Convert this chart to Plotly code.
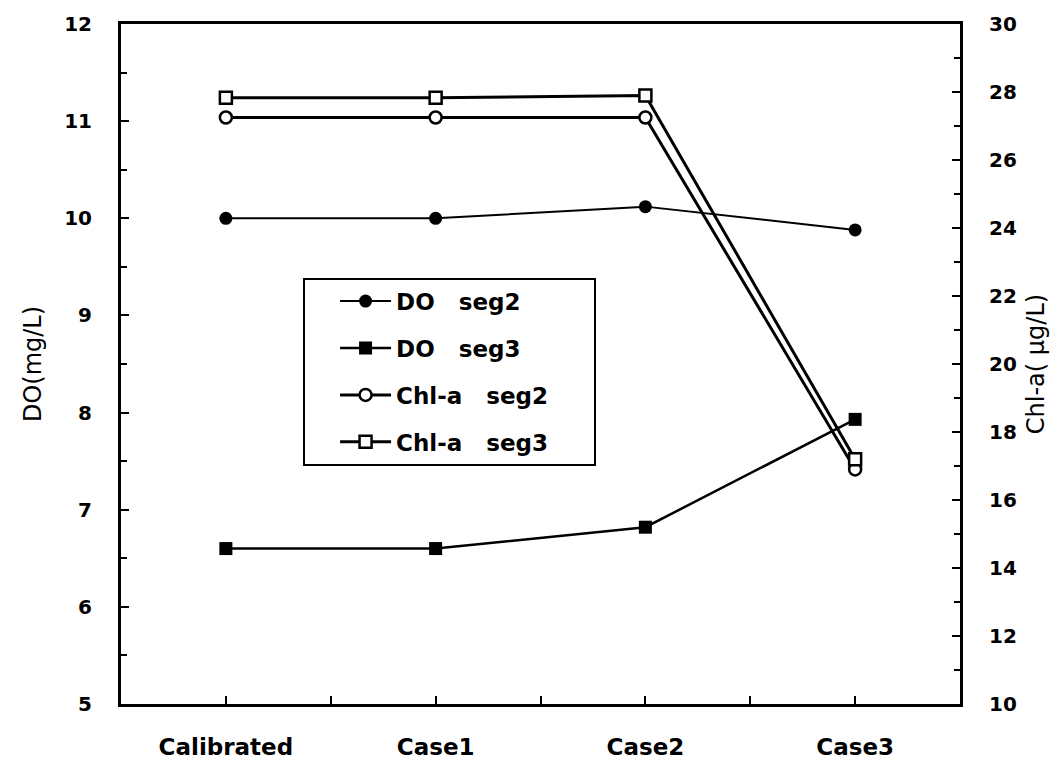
import plotly.graph_objects as go

categories = ["Calibrated", "Case1", "Case2", "Case3"]
do_seg2 = [10.0, 10.0, 10.12, 9.88]
do_seg3 = [6.6, 6.6, 6.82, 7.93]
chla_seg2 = [27.25, 27.25, 27.25, 16.9]
chla_seg3 = [27.83, 27.83, 27.9, 17.2]
SP = "\u00a0"
legend_names = ["DO" + SP * 3 + "seg2", "DO" + SP * 3 + "seg3",
                "Chl-a" + SP * 3 + "seg2" + SP * 5, "Chl-a" + SP * 3 + "seg3" + SP * 5]

xs = list(range(len(categories)))
FONT = "DejaVu Sans"

fig = go.Figure()
fig.add_trace(go.Scatter(x=xs, y=do_seg2, name=legend_names[0], mode="lines+markers",
                         line=dict(color="black", width=2),
                         marker=dict(symbol="circle", size=13, color="black"),
                         legendgroup="a"))
fig.add_trace(go.Scatter(x=xs, y=do_seg3, name=legend_names[1], mode="lines+markers",
                         line=dict(color="black", width=2.5),
                         marker=dict(symbol="square", size=13, color="black"),
                         legendgroup="b"))
fig.add_trace(go.Scatter(x=xs, y=chla_seg2, name=legend_names[2], mode="lines+markers",
                         line=dict(color="black", width=3),
                         marker=dict(symbol="circle", size=12, color="white",
                                     line=dict(color="black", width=2.5)),
                         yaxis="y2", legendgroup="c"))
fig.add_trace(go.Scatter(x=xs, y=chla_seg3, name=legend_names[3], mode="lines+markers",
                         line=dict(color="black", width=3),
                         marker=dict(symbol="square", size=12, color="white",
                                     line=dict(color="black", width=2.5)),
                         yaxis="y2", legendgroup="d"))

fig.update_layout(
    width=1063, height=772,
    margin=dict(l=121, r=103, t=15, b=58),
    paper_bgcolor="white", plot_bgcolor="white",
    font=dict(family=FONT, color="black", size=20),
    showlegend=True,
    legend=dict(x=0.217, y=0.627, xanchor="left", yanchor="top",
                bordercolor="black", borderwidth=2, bgcolor="white",
                font=dict(size=23, family=FONT, weight="bold"),
                tracegroupgap=14, itemwidth=51, indentation=30),
    xaxis=dict(range=[-0.5, 3.5], tickvals=xs, ticktext=categories,
               showline=True, linecolor="black", linewidth=3, mirror=True,
               ticks="inside", ticklen=8, tickwidth=2, tickcolor="black",
               minor=dict(dtick=0.5, tick0=-0.5, ticks="inside", ticklen=8,
                          tickwidth=2, tickcolor="black"),
               showgrid=False, zeroline=False,
               tickfont=dict(size=23, family=FONT, weight="bold"),
               ticklabelstandoff=20),
    yaxis=dict(range=[5, 12], dtick=1, showline=True, linecolor="black", linewidth=3,
               ticks="inside", ticklen=8, tickwidth=2, tickcolor="black",
               minor=dict(dtick=0.5, ticks="inside", ticklen=6, tickwidth=2,
                          tickcolor="black"),
               showgrid=False, zeroline=False,
               tickfont=dict(size=20, family=FONT, weight="bold"),
               ticklabelstandoff=22,
               title=dict(text="DO(mg/L)", font=dict(size=24, family=FONT), standoff=16)),
    yaxis2=dict(range=[10, 30], dtick=2, overlaying="y", side="right",
                showline=True, linecolor="black", linewidth=3,
                ticks="inside", ticklen=8, tickwidth=2, tickcolor="black",
                minor=dict(dtick=1, ticks="inside", ticklen=6, tickwidth=2,
                           tickcolor="black"),
                showgrid=False, zeroline=False,
                tickfont=dict(size=20, family=FONT, weight="bold"),
                ticklabelstandoff=22,
                title=dict(text="Chl-a( μg/L)", font=dict(size=24, family=FONT), standoff=12)),
)

fig.write_html("out.html")
